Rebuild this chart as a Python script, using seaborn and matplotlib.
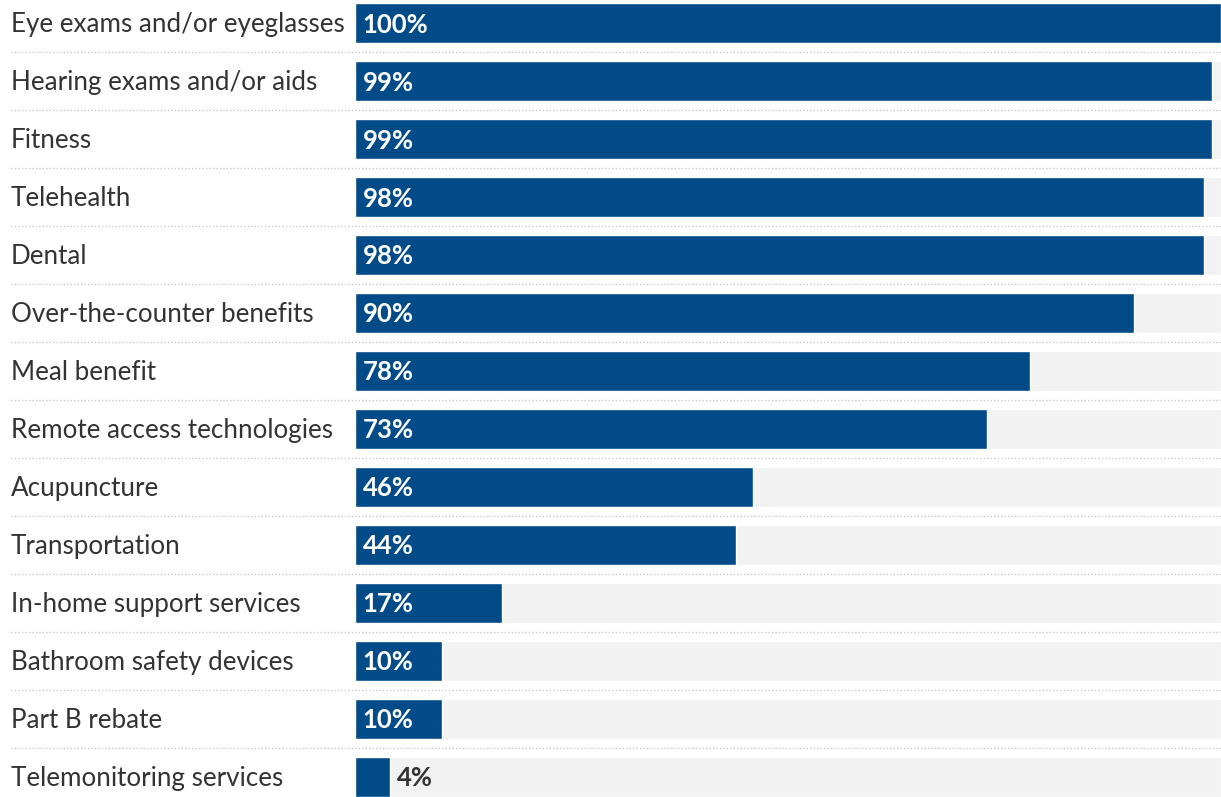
import matplotlib
matplotlib.use("Agg")
import matplotlib.pyplot as plt
import matplotlib.transforms as mtransforms
import seaborn as sns
import pandas as pd

categories = [
    "Eye exams and/or eyeglasses",
    "Hearing exams and/or aids",
    "Fitness",
    "Telehealth",
    "Dental",
    "Over-the-counter benefits",
    "Meal benefit",
    "Remote access technologies",
    "Acupuncture",
    "Transportation",
    "In-home support services",
    "Bathroom safety devices",
    "Part B rebate",
    "Telemonitoring services",
]
values = [100, 99, 99, 98, 98, 90, 78, 73, 46, 44, 17, 10, 10, 4]
track_max = 100

BAR_COLOR = "#024b89"
TRACK_COLOR = "#f2f2f2"
TEXT_COLOR = "#333333"
FONT = ["Lato", "DejaVu Sans"]

sns.set_theme(style="white")
plt.rcParams["font.family"] = FONT

df = pd.DataFrame({"category": categories, "value": values})
df["track"] = track_max

W, H = 1221, 797
fig = plt.figure(figsize=(W / 100, H / 100), dpi=100)
left = 355 / W
ax = fig.add_axes([left, 0, 1 - left, 1])

bar_w = 0.69
sns.barplot(data=df, x="track", y="category", orient="h", color=TRACK_COLOR,
            width=bar_w, ax=ax, saturation=1)
sns.barplot(data=df, x="value", y="category", orient="h", color=BAR_COLOR,
            width=bar_w, ax=ax, saturation=1)

ax.set_xlim(0, track_max)
pitch = 58
ax.set_ylim(13 + 20 / pitch, -23.5 / pitch)
ax.set_axis_off()

# dotted row separators spanning the label column too
label_x_fig = 11 / W
sep_left = -(355 - 11) / 866 * track_max
for i in range(len(categories) - 1):
    ax.plot([sep_left, track_max], [i + 0.5, i + 0.5], color="#c8c8c8",
            lw=1.0, ls=(0, (1, 1.5)), clip_on=False)

trans = mtransforms.blended_transform_factory(fig.transFigure, ax.transData)
for i, (cat, v) in enumerate(zip(categories, values)):
    ax.text(label_x_fig, i + 0.02, cat, transform=trans, ha="left", va="center",
            fontsize=18.7, color=TEXT_COLOR)
    if v >= 8:
        ax.text(0.9, i + 0.02, f"{v}%", ha="left", va="center", fontsize=18.5,
                fontweight="bold", color="white")
    else:
        ax.text(v + 0.9, i + 0.02, f"{v}%", ha="left", va="center", fontsize=18.5,
                fontweight="bold", color=TEXT_COLOR)

fig.savefig("out.png", dpi=100)
